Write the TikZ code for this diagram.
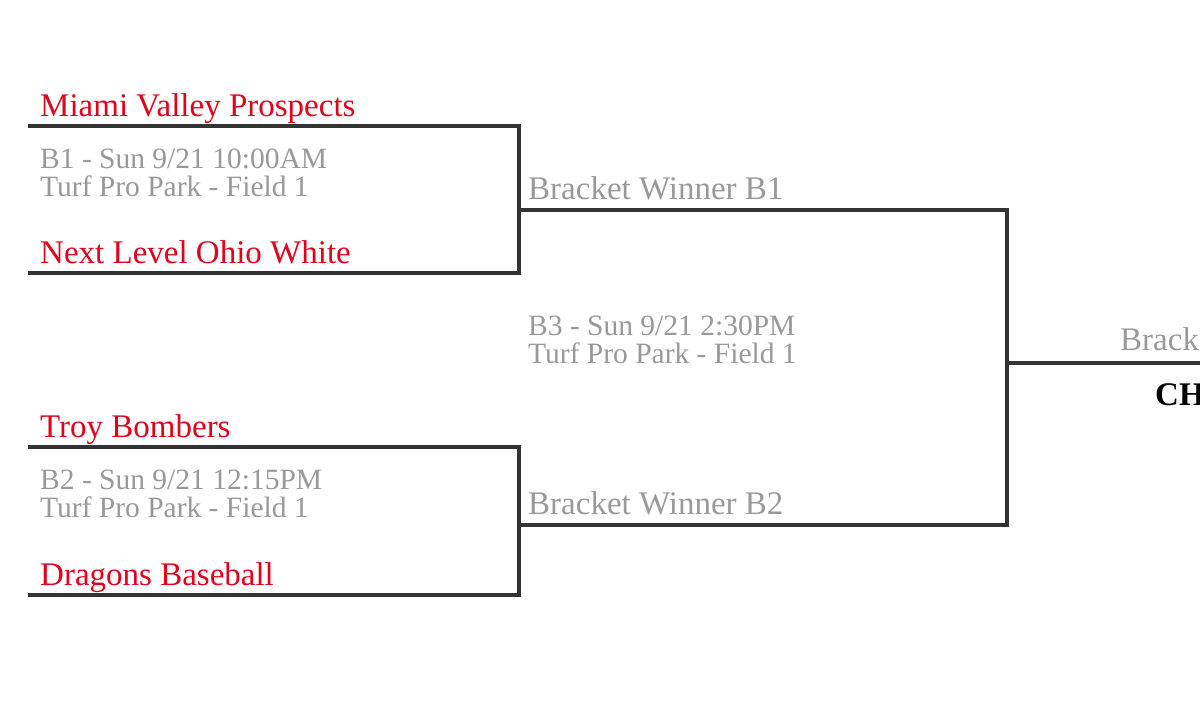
\documentclass[tikz,border=0pt]{standalone}
\usepackage{fontspec}
\setmainfont{Liberation Serif}
\usepackage{xcolor}
\usetikzlibrary{positioning}

\definecolor{teamred}{HTML}{E2001A}
\definecolor{infogray}{HTML}{999999}
\definecolor{linegray}{HTML}{333333}

\begin{document}
\begin{tikzpicture}[x=1pt, y=-1pt,
  team/.style={anchor=base west, inner sep=0pt, text=teamred, font=\fontsize{33}{36}\selectfont},
  info/.style={anchor=base west, inner sep=0pt, text=infogray, align=left, font=\fontsize{29.5}{28}\selectfont},
  win/.style={anchor=base west, inner sep=0pt, text=infogray, font=\fontsize{33}{36}\selectfont},
  br/.style={draw=linegray, line width=4pt, line join=miter}]
\useasboundingbox (0,0) rectangle (1200,716);
\clip (0,0) rectangle (1200,716);
% bracket corners
\coordinate (m1) at (28,126);
\coordinate (m2) at (28,273);
\coordinate (m3) at (28,447);
\coordinate (m4) at (28,595);
\coordinate (j1) at (519,210);
\coordinate (j2) at (519,525);
\coordinate (j3) at (1007,363);
\coordinate (fin) at (1215,363);
\draw[br] (m1) -| (j1) |- (m2);
\draw[br] (m3) -| (j2) |- (m4);
\draw[br] (j1) -| (j3);
\draw[br] (j2) -| (j3);
\draw[br] (j3) -- (fin);
% teams
\node[team] (t1) at (40,116) {Miami Valley Prospects};
\node[team] (t2) at (40,263) {Next Level Ohio White};
\node[team] (t3) at (40,437) {Troy Bombers};
\node[team] (t4) at (40,585) {Dragons Baseball};
% games (base = last line)
\node[info] (g1) at (40,196) {B1 - Sun 9/21 10:00AM\\Turf Pro Park - Field 1};
\node[info] (g2) at (40,517) {B2 - Sun 9/21 12:15PM\\Turf Pro Park - Field 1};
\node[info] (g3) at (528,363) {B3 - Sun 9/21 2:30PM\\Turf Pro Park - Field 1};
% winners
\node[win] (w1) at (528,199) {Bracket Winner B1};
\node[win] (w2) at (528,514) {Bracket Winner B2};
\node[win] (w3) at (1120,350) {Bracket Winner B3};
\node[anchor=base west, inner sep=0pt, font=\fontsize{33}{36}\selectfont\bfseries] (champ) at (1155,405) {CHAMPION};
\end{tikzpicture}
\end{document}
